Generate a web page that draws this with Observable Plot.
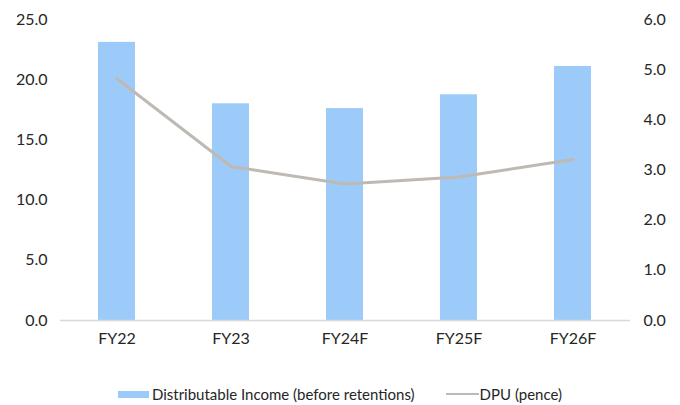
<!DOCTYPE html>
<html>
<head>
<meta charset="utf-8">
<script src="https://cdn.jsdelivr.net/npm/d3@7"></script>
<script src="https://cdn.jsdelivr.net/npm/@observablehq/plot@0.6"></script>
<style>
  body { margin: 0; background: #fff; font-family: Lato, "Open Sans", sans-serif; }
  #chart { width: 680px; }
  .legend { display: flex; justify-content: center; align-items: center; height: 30px; margin-top: 11px;
            font-family: Lato, sans-serif; font-size: 15px; color: #262626; }
  .legend .item { display: flex; align-items: center; }
  .legend .sw-bar { width: 31px; height: 7px; background: #9ccbf9; margin-right: 3px; }
  .legend .sw-line { width: 33px; height: 2.5px; background: #bfb9b3; margin-right: 1px; margin-left: 31px; }
</style>
</head>
<body>
<div id="chart"></div>
<script>
// Fiscal years and the two series
const years = ["FY22", "FY23", "FY24F", "FY25F", "FY26F"];
const distributableIncome = [23.1, 18.0, 17.6, 18.75, 21.1]; // left axis
const dpuPence = [4.82, 3.07, 2.72, 2.86, 3.21];              // right axis
const leftTicks = [0, 5, 10, 15, 20, 25];
const rightTicks = [0, 1, 2, 3, 4, 5, 6];

const leftMax = 25, rightMax = 6;
const toLeft = v => v * leftMax / rightMax;

const rows = years.map((y, i) => ({year: y, income: distributableIncome[i], dpu: dpuPence[i]}));

const chart = Plot.plot({
  width: 680,
  height: 368,
  marginTop: 19,
  marginBottom: 48,
  marginLeft: 60,
  marginRight: 50,
  style: {fontFamily: "Lato, sans-serif", fontSize: "16px", color: "#262626", background: "#fff"},
  x: {domain: years, type: "band", paddingInner: 0.675, paddingOuter: 0.3375, label: null},
  y: {domain: [0, leftMax], label: null},
  marks: [
    Plot.barY(rows, {x: "year", y: "income", fill: "#9ccbf9"}),
    Plot.ruleY([0], {stroke: "#d9d9d9", strokeWidth: 1.5}),
    Plot.line(rows, {x: "year", y: d => toLeft(d.dpu), stroke: "#bfb9b3", strokeWidth: 3}),
    Plot.axisX({tickSize: 0, tickPadding: 12, label: null, fontSize: 16}),
    Plot.axisY({ticks: leftTicks, tickSize: 0, tickPadding: 13, tickFormat: d => d.toFixed(1), label: null, fontSize: 16}),
    Plot.axisY({anchor: "right", ticks: rightTicks.map(toLeft), tickSize: 0, tickPadding: 13,
                tickFormat: d => (d * rightMax / leftMax).toFixed(1), label: null, fontSize: 16})
  ]
});
document.getElementById("chart").appendChild(chart);

const legend = document.createElement("div");
legend.className = "legend";
legend.innerHTML = `
  <div class="item"><div class="sw-bar"></div><span>Distributable Income (before retentions)</span></div>
  <div class="item"><div class="sw-line"></div><span>DPU (pence)</span></div>`;
document.getElementById("chart").appendChild(legend);
</script>
</body>
</html>
